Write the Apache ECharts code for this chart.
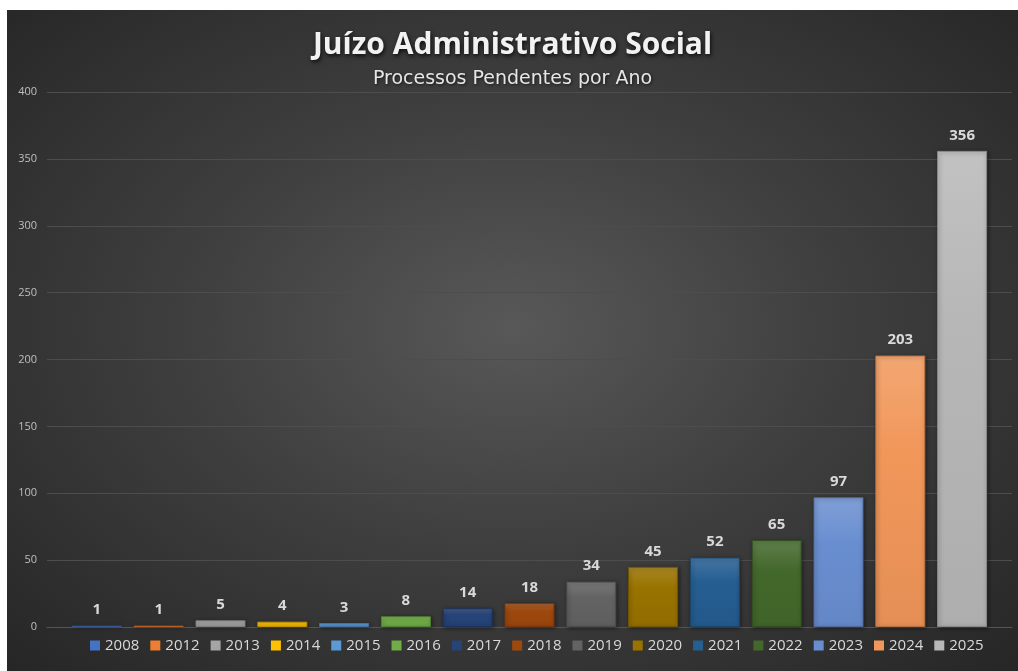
<!DOCTYPE html>
<html>
<head>
<meta charset="utf-8">
<script src="https://cdn.jsdelivr.net/npm/echarts@6/dist/echarts.min.js"></script>
<style>
html,body{margin:0;padding:0;background:#fff;}
#chart{position:absolute;left:7px;top:10px;width:1011px;height:661px;
background:radial-gradient(ellipse at 50% 48%, #585858 0%, #3f3f3f 45%, #262626 100%);}
</style>
</head>
<body>
<div id="chart"></div>
<script>
var years = ['2008','2012','2013','2014','2015','2016','2017','2018','2019','2020','2021','2022','2023','2024','2025'];
var values = [1,1,5,4,3,8,14,18,34,45,52,65,97,203,356];
var baseColors = ['#4472C4','#ED7D31','#A5A5A5','#FFC000','#5B9BD5','#70AD47','#264478','#9E480E','#636363','#997300','#255E91','#43682B','#698ED0','#F1975A','#B7B7B7'];
var yTicks = [0,50,100,150,200,250,300,350,400];

function lighten(hex, f){
  var r=parseInt(hex.substr(1,2),16),g=parseInt(hex.substr(3,2),16),b=parseInt(hex.substr(5,2),16);
  r=Math.round(r+(255-r)*f);g=Math.round(g+(255-g)*f);b=Math.round(b+(255-b)*f);
  return 'rgb('+r+','+g+','+b+')';
}
function darken(hex, f){
  var r=parseInt(hex.substr(1,2),16),g=parseInt(hex.substr(3,2),16),b=parseInt(hex.substr(5,2),16);
  r=Math.round(r*(1-f));g=Math.round(g*(1-f));b=Math.round(b*(1-f));
  return 'rgb('+r+','+g+','+b+')';
}

var chart = echarts.init(document.getElementById('chart'));
var series = years.map(function(y,i){
  return {
    name: y,
    type: 'bar',
    barWidth: 50,
    barGap: '23.6%',
    data: [values[i]],
    itemStyle: {
      color: new echarts.graphic.LinearGradient(0,0,0,1,[
        {offset:0,color:lighten(baseColors[i],0.15)},
        {offset:0.35,color:baseColors[i]},
        {offset:1,color:darken(baseColors[i],0.05)}
      ]),
      borderColor: darken(baseColors[i],0.25),
      borderWidth: 1,
      shadowColor: 'rgba(0,0,0,0.45)',
      shadowBlur: 4,
      shadowOffsetX: 1,
      shadowOffsetY: 1
    },
    label: {
      show: true,
      position: 'top',
      distance: 8,
      color: '#d9d9d9',
      fontFamily: 'Open Sans',
      fontWeight: 'bold',
      fontSize: 15
    }
  };
});

chart.setOption({
  animation: false,
  color: baseColors,
  title: [{
    text: 'Juízo Administrativo Social',
    left: 'center',
    top: 15,
    textStyle: {
      color: '#f2f2f2', fontFamily: 'Open Sans', fontWeight: 'bold', fontSize: 30,
      textShadowColor: 'rgba(0,0,0,0.8)', textShadowBlur: 4, textShadowOffsetX: 1, textShadowOffsetY: 2
    }
  },{
    text: 'Processos Pendentes por Ano',
    left: 'center',
    top: 55,
    textStyle: {
      color: '#e6e6e6', fontFamily: 'DejaVu Sans', fontWeight: 'normal', fontSize: 19,
      textShadowColor: 'rgba(0,0,0,0.6)', textShadowBlur: 3, textShadowOffsetX: 1, textShadowOffsetY: 1
    }
  }],
  legend: {
    data: years.map(function(y,i){
      return { name: y, itemStyle: { color: baseColors[i], borderWidth: 0, shadowBlur: 0 } };
    }),
    left: 83,
    top: 628,
    padding: 0,
    itemWidth: 10,
    itemHeight: 10,
    itemGap: 11,
    icon: 'rect',
    textStyle: { color: '#d9d9d9', fontFamily: 'Open Sans', fontSize: 15 }
  },
  grid: { left: 40, right: 6, top: 82, bottom: 44, containLabel: false },
  xAxis: {
    type: 'category',
    data: [''],
    axisLine: { show: true, lineStyle: { color: '#555555', width: 1 } },
    axisTick: { show: false },
    axisLabel: { show: false }
  },
  yAxis: {
    type: 'value',
    min: 0, max: 400, interval: 50,
    axisLine: { show: false },
    axisTick: { show: false },
    splitLine: { lineStyle: { color: '#4d4d4d', width: 1 } },
    axisLabel: {
      color: '#bfbfbf', fontFamily: 'Open Sans', fontSize: 11, margin: 10,
      formatter: function(v){ return yTicks.indexOf(v) >= 0 ? String(v) : ''; }
    }
  },
  series: series
});
</script>
</body>
</html>
